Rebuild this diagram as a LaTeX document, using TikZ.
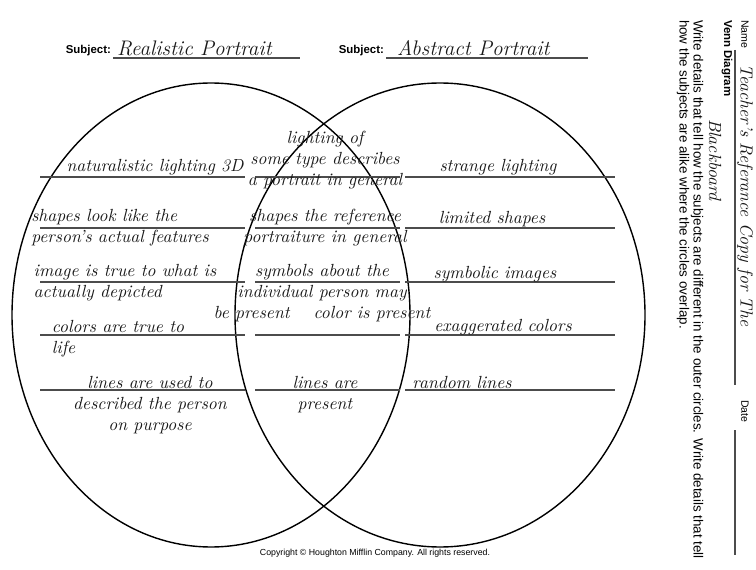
\documentclass[tikz,border=0pt]{standalone}
\usepackage{fontspec}
\setsansfont{Liberation Sans}
\usepackage{tikz}
\definecolor{ink}{gray}{0.1}
\tikzset{
  hand/.style={font=\itshape\normalsize, text=ink, inner sep=1pt},
  print/.style={font=\sffamily\fontsize{6}{7}\selectfont, inner sep=1pt},
  rule/.style={line width=0.6pt, gray!60!black}
}
\begin{document}
\begin{tikzpicture}[x=0.02cm, y=-0.02cm]
  \useasboundingbox (0, 0) rectangle (756, 570);

  % the two circles
  \draw[line width=0.8] (211, 315) ellipse [x radius=199, y radius=232];
  \draw[line width=0.8] (440, 315) ellipse [x radius=205, y radius=232];

  % subjects
  \node[print, font=\sffamily\bfseries\fontsize{6.5}{7}\selectfont, anchor=east] (subl) at (113, 51) {Subject:};
  \node[hand, font=\itshape\large, anchor=south west] (subltext) at (115, 58) {Realistic Portrait};
  \draw[rule] (113, 58) -- (300, 58);
  \node[print, font=\sffamily\bfseries\fontsize{6.5}{7}\selectfont, anchor=east] (subr) at (386, 51) {Subject:};
  \node[hand, font=\itshape\large, anchor=south west] (subrtext) at (395, 58) {Abstract Portrait};
  \draw[rule] (386, 58) -- (588, 58);

  % writing lines
  \foreach \y in {177, 228, 282, 335, 390} {
    \draw[rule] (40, \y) -- (245, \y);
    \draw[rule] (255, \y) -- (400, \y);
    \draw[rule] (405, \y) -- (615, \y);
  }

  % left circle
  \node[hand] (l1) at (155, 167) {naturalistic lighting 3D};
  \node[hand, align=left] (l2) at (120, 228) {shapes look like the\\person's actual features};
  \node[hand, align=left] (l3) at (125, 283) {image is true to what is\\actually depicted};
  \node[hand, align=left] (l4) at (118, 339) {colors are true to\\life};
  \node[hand, align=center] (l5) at (150, 405) {lines are used to\\described the person\\on purpose};

  % overlap
  \node[hand, align=center] (m1) at (325, 160) {lighting of\\some type describes\\a portrait in general};
  \node[hand, align=center] (m2) at (325, 228) {shapes the reference\\portraiture in general};
  \node[hand, align=center] (m3) at (322, 293) {symbols about the\\individual person may\\be present \quad color is present};
  \node[hand, align=center] (m4) at (325, 395) {lines are\\present};

  % right circle
  \node[hand] (r1) at (498, 167) {strange lighting};
  \node[hand] (r2) at (492, 219) {limited shapes};
  \node[hand] (r3) at (495, 274) {symbolic images};
  \node[hand] (r4) at (503, 327) {exaggerated colors};
  \node[hand] (r5) at (462, 382) {random lines};

  % header on the right side
  \node[print, rotate=-90, anchor=west] (name) at (745, 18) {Name};
  \draw[rule] (735, 50) -- (735, 385);
  \node[hand, rotate=-90, anchor=south west] (namet) at (735, 62) {Teacher's Referance Copy for The};
  \node[hand, rotate=-90] (board) at (715, 160) {Blackboard};
  \node[print, rotate=-90, anchor=west] (date) at (745, 398) {Date};
  \draw[rule] (735, 430) -- (735, 555);
  \node[print, font=\sffamily\bfseries\fontsize{6.5}{7}\selectfont, rotate=-90, anchor=west] (venn) at (727, 18) {Venn Diagram};
  \node[print, font=\sffamily\fontsize{7.6}{9}\selectfont, rotate=-90, anchor=west] (ins1) at (697, 18) {Write details that tell how the subjects are different in the outer circles. Write details that tell};
  \node[print, font=\sffamily\fontsize{7.6}{9}\selectfont, rotate=-90, anchor=west] (ins2) at (683, 18) {how the subjects are alike where the circles overlap.};

  % footer
  \node[print, font=\sffamily\fontsize{5}{6}\selectfont] (copy) at (375, 553) {Copyright \copyright\ Houghton Mifflin Company. All rights reserved.};
\end{tikzpicture}
\end{document}
